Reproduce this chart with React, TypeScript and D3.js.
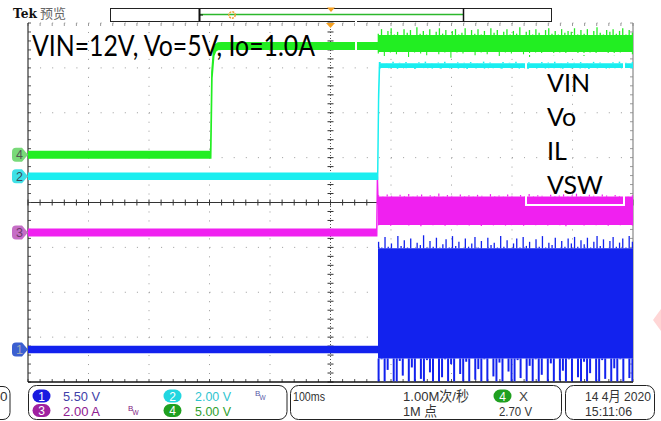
import React from 'react';
import * as d3 from 'd3';

const W = 661, H = 421;

// channel settings: units per division, trace offset in divisions
const chVin = { perDiv: 5, offset: 1.063 };
const chVo = { perDiv: 2, offset: 0.584 };
const chIl = { perDiv: 2, offset: -0.669 };
const chVsw = { perDiv: 5.5, offset: -3.276 };

// time in ms across 10 divisions of 100 ms
const timeDomain = [0, 1000];

// traces before the converter starts switching
const vinPreT = [0, 302, 304, 307, 310, 314, 320, 578];
const vinPreV = [0, 0, 8.9, 11.4, 11.9, 12.1, 12.12, 12.12];
const voPreT = [0, 578, 579.5, 581];
const voPreV = [0, 0, 3.5, 4.96];
const ilPreT = [0, 576.5, 577.5, 578.5];
const ilPreV = [0, 0, 2.34, 1.4];
const vswPreT = [0, 578.5];
const vswPreV = [0, 0];

// ripple after switching starts: body band plus spike envelopes
const vinStart = 578;
const vinBody = [11.45, 13.35];
const vinHi = [13.5, 14.0, 13.3, 13.8, 14.1, 13.4, 13.7, 13.2, 14.0, 13.6, 13.9, 13.3, 14.2, 13.5, 13.8, 13.4, 14.0, 13.3, 13.7, 14.1,
  13.5, 13.9, 13.2, 13.8, 14.0, 13.4, 13.6, 14.1, 13.3, 13.9, 13.5, 14.0, 13.4, 13.8, 13.2, 14.1, 13.6, 13.9, 13.3, 13.7,
  14.0, 13.4, 13.8, 13.5, 14.2, 13.3, 13.7, 13.9, 13.4, 14.0, 13.6, 13.3, 13.9, 14.1, 13.5, 13.8, 13.4, 14.0, 13.6, 13.8,
  13.7, 14.1, 13.4, 13.9, 13.5, 14.0, 13.3, 13.8, 14.2, 13.6, 13.4, 13.9, 13.7, 14.0, 13.5, 13.8, 14.1, 13.4, 13.9, 13.6];
const vinLo = [11.3, 11.0, 11.4, 11.2, 11.5, 10.9, 11.4, 11.3, 11.1, 11.5, 11.2, 11.4, 10.8, 11.4, 11.3, 11.5, 11.1, 11.4, 11.2, 11.5,
  11.0, 11.4, 11.3, 11.5, 11.2, 10.9, 11.4, 11.3, 11.5, 11.1, 11.4, 11.2, 11.5, 11.3, 11.0, 11.4, 11.2, 11.5, 11.3, 11.1, 11.4, 11.5, 11.2];

const voStart = 581;
const voBody = [4.83, 5.04];
const voHi = [5.08, 5.05, 5.10, 5.06, 5.09, 5.04, 5.08, 5.11, 5.05, 5.07, 5.10, 5.04, 5.08, 5.06, 5.09, 5.05, 5.11, 5.07, 5.04, 5.09,
  5.06, 5.10, 5.05, 5.08, 5.04, 5.09, 5.07, 5.10, 5.05, 5.08, 5.06, 5.09, 5.05, 5.10, 5.07, 5.04, 5.08, 5.11, 5.06, 5.09];
const voLo = [4.80, 4.82, 4.79, 4.81, 4.78, 4.82, 4.80, 4.79, 4.81, 4.80, 4.78, 4.82, 4.80, 4.81, 4.79, 4.82, 4.80, 4.78, 4.81, 4.80,
  4.82, 4.79, 4.81, 4.80, 4.78, 4.82, 4.80, 4.81, 4.79, 4.80];

const ilStart = 578.5;
const ilBody = [0.34, 1.6];
const ilHi = [1.66, 1.62, 1.70, 1.64, 1.61, 1.68, 1.63, 1.72, 1.62, 1.65, 1.69, 1.61, 1.66, 1.63, 1.74, 1.62, 1.67, 1.64, 1.61, 1.70,
  1.63, 1.66, 1.62, 1.68, 1.64, 1.61, 1.71, 1.63, 1.65, 1.62, 1.69, 1.64, 1.61, 1.67, 1.63, 1.72, 1.62, 1.66, 1.64, 1.61, 1.68, 1.63, 1.65,
  1.70, 1.62, 1.66, 1.73, 1.63, 1.61, 1.68, 1.64, 1.62, 1.69, 1.65, 1.61, 1.67, 1.63, 1.71, 1.62, 1.66];
const ilLo = [0.32, 0.34, 0.30, 0.33, 0.35, 0.31, 0.33, 0.28, 0.34, 0.32, 0.33, 0.30, 0.35, 0.32, 0.34, 0.31, 0.33, 0.29, 0.34, 0.32,
  0.35, 0.31, 0.33, 0.34, 0.30, 0.33, 0.32, 0.35, 0.31, 0.34, 0.32, 0.28, 0.33, 0.35, 0.31, 0.34, 0.32, 0.33, 0.30, 0.34, 0.32, 0.33, 0.31];

const vswStart = 578.5;
const vswBody = [-1.1, 12.4];
const vswHi = [13.2, 12.5, 13.8, 12.6, 13.0, 12.4, 13.9, 12.7, 13.4, 12.5, 13.6, 12.4, 13.1, 12.8, 14.0, 12.5, 13.3, 12.6, 13.7, 12.4,
  12.9, 13.5, 12.5, 13.9, 12.7, 13.2, 12.4, 13.6, 12.6, 13.0, 13.8, 12.5, 13.3, 12.4, 13.7, 12.8, 13.1, 12.5, 13.9, 12.6,
  13.4, 12.4, 13.0, 13.6, 12.5, 13.8, 12.7, 13.2, 12.4, 13.5, 12.6, 13.9, 12.5, 13.1, 12.8, 13.7, 12.4, 13.3, 12.6, 13.6,
  13.0, 13.8, 12.6, 13.4, 12.9, 13.7, 12.5, 13.2, 13.9, 12.7, 13.5, 12.4, 13.3, 13.8, 12.6, 13.1, 13.6, 12.5, 13.9, 13.2];
const vswLo = [-3.9, -1.2, -3.9, -2.5, -1.1, -3.9, -3.9, -1.4, -3.2, -1.1, -3.9, -2.2, -3.9, -1.1, -3.6, -3.9, -1.3, -2.8, -3.9, -1.1,
  -3.9, -3.4, -1.2, -3.9, -1.8, -3.9, -1.1, -3.0, -3.9, -1.5, -3.9, -1.1, -3.7, -2.4, -3.9, -1.2, -3.9, -1.1, -3.3, -3.9,
  -1.6, -3.9, -1.1, -2.7, -3.9, -3.9, -1.3, -3.5, -1.1, -3.9, -2.0, -3.9, -1.2, -3.9, -3.1, -1.1, -3.9, -1.7, -3.9, -1.1,
  -3.8, -2.6, -3.9, -1.2, -3.9, -1.1, -3.4, -3.9, -1.5, -3.9, -2.9, -1.1, -3.9, -3.9, -1.3, -3.6, -1.1, -3.9, -2.3, -3.9,
  -1.2, -3.9, -1.1, -3.5, -3.9];

// texts
const titleText = 'VIN=12V, Vo=5V, Io=1.0A';
const legendLabels = ['VIN', 'Vo', 'IL', 'VSW'];
const ch1Scale = '5.50 V';
const ch2Scale = '2.00 V';
const ch3Scale = '2.00 A';
const ch4Scale = '5.00 V';
const timeBase = '100ms';
const sampleRate = '1.00M次/秒';
const recordLen = '1M 点';
const trigLevel = '2.70 V';
const dateText = '14 4月 2020';
const timeText = '15:11:06';

const GREEN = '#22ee22';
const CYAN = '#1aeef0';
const MAGENTA = '#f020f0';
const BLUE = '#1222ee';
const GRID = '#9a9a9a';

type Ch = { perDiv: number; offset: number };

export default function App() {
  const x = d3.scaleLinear().domain(timeDomain).range([28, 633]);
  const yDiv = d3.scaleLinear().domain([-4, 4]).range([382, 23]);
  const yOf = (c: Ch, v: number) => yDiv(c.offset + v / c.perDiv);

  const band = (c: Ch, ts: number[], vs: number[], half: number) => {
    const pts: [number, number][] = ts.map((t, i) => [t, vs[i]]);
    return d3.area<[number, number]>()
      .x(d => x(d[0]))
      .y0(d => yOf(c, d[1]) + half)
      .y1(d => yOf(c, d[1]) - half)(pts) || '';
  };
  const body = (c: Ch, t0: number, lv: number[]) => {
    const pts: [number, number][] = [[t0, 0], [timeDomain[1], 0]];
    return d3.area<[number, number]>()
      .x(d => x(d[0]))
      .y0(() => yOf(c, lv[0]))
      .y1(() => yOf(c, lv[1]))(pts) || '';
  };
  const spikes = (c: Ch, t0: number, arr: number[], base: number, color: string, w: number, key: string) => {
    const ts = d3.scaleLinear().domain([0, arr.length - 1]).range([t0 + 1, timeDomain[1] - 1]);
    return arr.map((v, i) => (
      <line key={key + i} x1={x(ts(i))} x2={x(ts(i))} y1={yOf(c, base)} y2={yOf(c, v)} stroke={color} strokeWidth={w} />
    ));
  };

  const left = x(0), right = x(1000), top = yDiv(4), bottom = yDiv(-4);
  const cx = x(500), cy = yDiv(0);
  const majorX = d3.range(1, 10).filter(i => i !== 5).map(i => x(i * 100));
  const majorY = d3.range(-3, 4).filter(i => i !== 0).map(i => yDiv(i));
  const minorX = d3.range(0, 1001, 20).map(t => x(t));
  const minorY = d3.range(0, 41).map(i => yDiv(-4 + i * 0.2));
  const dx = (right - left) / 50;
  const dy = (bottom - top) / 40;

  const marker = (cyM: number, fill: string, label: string, txt: string) => {
    const p = `M16,${cyM - 7} L22,${cyM - 7} L28,${cyM} L22,${cyM + 7} L16,${cyM + 7} Q12,${cyM + 7} 12,${cyM + 3} L12,${cyM - 3} Q12,${cyM - 7} 16,${cyM - 7} Z`;
    return (
      <g key={label}>
        <path d={p} fill={fill} />
        <text x={19.5} y={cyM + 4.5} fontSize={12.5} fontFamily="'Liberation Sans', sans-serif" fill={txt} textAnchor="middle">{label}</text>
      </g>
    );
  };

  const badge = (bx: number, by: number, fill: string, label: string) => (
    <g>
      <rect x={bx - 9} y={by - 6.5} width={18} height={13} rx={6.5} fill={fill} />
      <text x={bx} y={by + 4.5} fontSize={12} fontFamily="'Liberation Sans', sans-serif" fill="#fff" textAnchor="middle">{label}</text>
    </g>
  );

  const pf = "'Liberation Sans', 'Noto Sans CJK SC', sans-serif";
  const fs = 13.5;
  const r1 = 401, r2 = 416;

  return (
    <svg width={W} height={H} style={{ position: 'absolute', left: 0, top: 0, background: '#fff' }}>
      <rect x={0} y={0} width={W} height={H} fill="#fff" />
      <defs>
        <clipPath id="plot"><rect x={left} y={top} width={right - left} height={bottom - top} /></clipPath>
      </defs>

      {/* header */}
      <text x={13} y={17.5} fontSize={12.5} fontWeight="bold" fontFamily="'DejaVu Serif', serif" fill="#111" textLength={24} lengthAdjust="spacingAndGlyphs">Tek</text>
      <text x={40} y={18} fontSize={13} fontFamily="'Noto Sans CJK SC', sans-serif" fill="#666">预览</text>
      <rect x={110.5} y={8.5} width={441} height={13} fill="#fff" stroke="#222" strokeWidth={1} />
      <line x1={200} x2={463} y1={14.5} y2={14.5} stroke="#2cb82c" strokeWidth={1.5} />
      <line x1={199.5} x2={199.5} y1={9} y2={21} stroke="#111" strokeWidth={2} />
      <line x1={199.5} x2={203} y1={15} y2={15} stroke="#111" strokeWidth={1} />
      <line x1={463.5} x2={463.5} y1={8.5} y2={21.5} stroke="#111" strokeWidth={1.5} />
      <circle cx={232} cy={15} r={3.2} fill="none" stroke="#f0a030" strokeWidth={1.5} strokeDasharray="2 1" />
      <path d="M327,7.5 L335,7.5 L331,12 Z" fill="#f5a020" />

      {/* graticule */}
      <g>
        {majorY.map((y, i) => (
          <line key={'hy' + i} x1={left} x2={right} y1={y} y2={y} stroke={GRID} strokeWidth={1} strokeDasharray={`1 ${dx - 1}`} />
        ))}
        {majorX.map((xx, i) => (
          <line key={'vx' + i} x1={xx} x2={xx} y1={top} y2={bottom} stroke={GRID} strokeWidth={1} strokeDasharray={`1 ${dy - 1}`} />
        ))}
        <line x1={left} x2={right} y1={cy} y2={cy} stroke="#333" strokeWidth={1} />
        {minorX.map((xx, i) => (
          <line key={'tcx' + i} x1={xx} x2={xx} y1={cy - 3} y2={cy + 3} stroke="#333" strokeWidth={1} />
        ))}
        <line x1={cx} x2={cx} y1={top} y2={bottom} stroke="#555" strokeWidth={1} strokeDasharray="1 2" />
        {minorY.map((yy, i) => (
          <line key={'tcy' + i} x1={cx - 3} x2={cx + 3} y1={yy} y2={yy} stroke="#333" strokeWidth={1} />
        ))}
        <line x1={left} x2={right} y1={top} y2={top} stroke={GRID} strokeWidth={1} strokeDasharray={`1 ${dx - 1}`} />
        {minorX.map((xx, i) => (
          <line key={'tt' + i} x1={xx} x2={xx} y1={top} y2={top + 3} stroke={GRID} strokeWidth={1} />
        ))}
        {minorX.map((xx, i) => (
          <line key={'tb' + i} x1={xx} x2={xx} y1={bottom - 3} y2={bottom} stroke="#555" strokeWidth={1} />
        ))}
        {minorY.map((yy, i) => (
          <line key={'tl' + i} x1={left} x2={left + 3} y1={yy} y2={yy} stroke="#555" strokeWidth={1} />
        ))}
        {minorY.map((yy, i) => (
          <line key={'tr' + i} x1={right - 3} x2={right} y1={yy} y2={yy} stroke={GRID} strokeWidth={1} />
        ))}
        <line x1={left} x2={left} y1={top} y2={bottom} stroke="#333" strokeWidth={1.2} />
        <line x1={right} x2={right} y1={top} y2={bottom} stroke="#888" strokeWidth={1.2} />
        <line x1={left} x2={right} y1={bottom} y2={bottom} stroke="#111" strokeWidth={1.5} />
      </g>

      {/* traces */}
      <g clipPath="url(#plot)">
        <path d={band(chVsw, vswPreT, vswPreV, 3)} fill={BLUE} stroke={BLUE} strokeWidth={1.4} />
        <path d={body(chVsw, vswStart, vswBody)} fill={BLUE} />
        {spikes(chVsw, vswStart, vswHi, vswBody[1], BLUE, 1.3, 'sh')}
        {spikes(chVsw, vswStart, vswLo, vswBody[0], BLUE, 2, 'sl')}

        <path d={band(chIl, ilPreT, ilPreV, 3.4)} fill={MAGENTA} stroke={MAGENTA} strokeWidth={1.4} />
        <path d={body(chIl, ilStart, ilBody)} fill={MAGENTA} />
        {spikes(chIl, ilStart, ilHi, ilBody[1], MAGENTA, 1.2, 'ih')}
        {spikes(chIl, ilStart, ilLo, ilBody[0], MAGENTA, 1.2, 'il')}

        <path d={band(chVo, voPreT, voPreV, 3)} fill={CYAN} stroke={CYAN} strokeWidth={1.4} />
        <path d={body(chVo, voStart, voBody)} fill={CYAN} />
        {spikes(chVo, voStart, voHi, voBody[1], CYAN, 1.5, 'vh')}
        {spikes(chVo, voStart, voLo, voBody[0], CYAN, 1.5, 'vl')}

        <path d={band(chVin, vinPreT, vinPreV, 3.2)} fill={GREEN} stroke={GREEN} strokeWidth={1.6} />
        <path d={body(chVin, vinStart, vinBody)} fill={GREEN} />
        {spikes(chVin, vinStart, vinHi, vinBody[1], GREEN, 1.3, 'gh')}
        {spikes(chVin, vinStart, vinLo, vinBody[0], GREEN, 1.1, 'gl')}
      </g>
      <rect x={355} y={20} width={2} height={34} fill="#fff" />
      <path d={`M${cx - 4.5},${top} L${cx + 4.5},${top} L${cx},${top + 5} Z`} fill="#f5a020" />

      {/* annotations */}
      <text x={32} y={56} fontSize={28} fontFamily="Lato, 'Open Sans', sans-serif" fill="#000" textLength={283} lengthAdjust="spacingAndGlyphs">{titleText}</text>
      <rect x={526} y={54} width={98} height={151} fill="none" stroke="#fff" strokeWidth={2} />
      {legendLabels.map((l, i) => (
        <text key={l} x={547} y={92 + i * 34} fontSize={25} fontFamily="Lato, 'Open Sans', sans-serif" fill="#000">{l}</text>
      ))}

      {/* channel markers */}
      {marker(yDiv(chVin.offset), '#79d979', '4', '#555')}
      {marker(yDiv(chVo.offset), '#3fe0e6', '2', '#3a4a5a')}
      {marker(yDiv(chIl.offset), '#c66ec6', '3', '#6a3a6a')}
      {marker(yDiv(chVsw.offset), '#3b5fd0', '1', '#a0a8b8')}

      {/* bottom readout panel */}
      <rect x={-14} y={386.5} width={24} height={33} rx={7} fill="#fff" stroke="#222" strokeWidth={1} />
      <text x={0} y={r1} fontSize={fs} fontFamily={pf} fill="#333">0</text>

      <rect x={28.5} y={385.5} width={258.5} height={34} rx={8} fill="#fff" stroke="#222" strokeWidth={1} />
      {badge(41.5, 396, '#1a1ae0', '1')}
      <text x={63} y={r1} fontSize={fs} fontFamily={pf} fill="#4040a8" textLength={37} lengthAdjust="spacingAndGlyphs">{ch1Scale}</text>
      {badge(172.5, 396, '#22d6e0', '2')}
      <text x={195} y={r1} fontSize={fs} fontFamily={pf} fill="#30c4d0" textLength={36} lengthAdjust="spacingAndGlyphs">{ch2Scale}</text>
      <text x={255} y={396} fontSize={8} fontFamily={pf} fill="#5a5aa8">B</text>
      <text x={259.5} y={400} fontSize={6.5} fontFamily={pf} fill="#5a5aa8">W</text>
      {badge(41.5, 410.5, '#a020a0', '3')}
      <text x={63} y={r2} fontSize={fs} fontFamily={pf} fill="#902090" textLength={37} lengthAdjust="spacingAndGlyphs">{ch3Scale}</text>
      <text x={128} y={411} fontSize={8} fontFamily={pf} fill="#802080">B</text>
      <text x={132.5} y={415} fontSize={6.5} fontFamily={pf} fill="#802080">W</text>
      {badge(172.5, 410.5, '#20a020', '4')}
      <text x={195} y={r2} fontSize={fs} fontFamily={pf} fill="#30a030" textLength={36} lengthAdjust="spacingAndGlyphs">{ch4Scale}</text>

      <rect x={290.5} y={385.5} width={271} height={34} rx={8} fill="#fff" stroke="#222" strokeWidth={1} />
      <text x={293} y={r1} fontSize={fs} fontFamily={pf} fill="#333" textLength={32} lengthAdjust="spacingAndGlyphs">{timeBase}</text>
      <text x={403} y={r1} fontSize={fs} fontFamily={pf} fill="#333" textLength={66} lengthAdjust="spacingAndGlyphs">{sampleRate}</text>
      {badge(502.5, 396, '#20a020', '4')}
      <text x={519} y={r1} fontSize={fs} fontFamily={pf} fill="#444">X</text>
      <text x={403} y={r2} fontSize={fs} fontFamily={pf} fill="#333" textLength={34} lengthAdjust="spacingAndGlyphs">{recordLen}</text>
      <text x={499} y={r2} fontSize={fs} fontFamily={pf} fill="#333" textLength={33} lengthAdjust="spacingAndGlyphs">{trigLevel}</text>

      <rect x={565.5} y={385.5} width={89} height={34} rx={8} fill="#fff" stroke="#222" strokeWidth={1} />
      <text x={585} y={r1} fontSize={fs} fontFamily={pf} fill="#333" textLength={66} lengthAdjust="spacingAndGlyphs">{dateText}</text>
      <text x={585} y={r2} fontSize={fs} fontFamily={pf} fill="#333" textLength={47} lengthAdjust="spacingAndGlyphs">{timeText}</text>

      <path d="M661,309 L653,320 L661,331 Z" fill="#ffd6d6" />
    </svg>
  );
}
